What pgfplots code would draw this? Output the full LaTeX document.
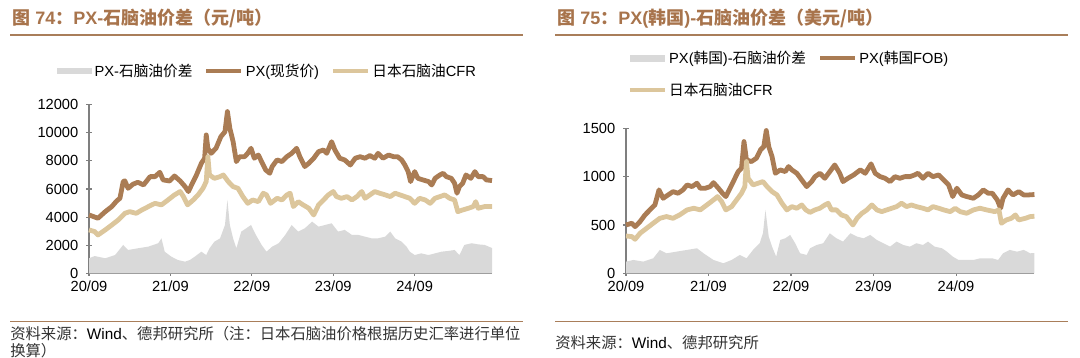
\documentclass[border=0pt]{standalone}
\usepackage{fontspec}
\setmainfont{Liberation Sans}
\newfontfamily\cjk{Noto Sans CJK SC}
\usepackage{pgfplots}
\pgfplotsset{compat=1.18}
\definecolor{pxbrown}{HTML}{AA7C54}
\definecolor{naptan}{HTML}{DCC69C}
\definecolor{spreadgray}{HTML}{D9D9D9}
\definecolor{titlebrown}{HTML}{A8744C}
\definecolor{rulebrown}{HTML}{A97E5A}
\definecolor{axisgray}{HTML}{7F7F7F}
\definecolor{srcgray}{HTML}{333333}
\newcommand\zh[1]{{\cjk #1}}

\pgfplotsset{
  myaxis/.style={
    scale only axis,
    axis x line=bottom, axis y line=left,
    axis line style={-, axisgray, line width=0.8pt},
    xmin=0, xmax=4.95, ymin=0,
    xtick={0,1,2,3,4}, xticklabels={20/09,21/09,22/09,23/09,24/09},
    tick style={axisgray, line width=0.8pt}, tick align=center, major tick length=4pt,
    scaled y ticks=false,
    /pgf/number format/assume math mode=true, /pgf/number format/1000 sep={},
    tick label style={font=\fontsize{11}{13}\selectfont, text=black},
    yticklabel style={xshift=-2.5pt},
    legend cell align=left,
    legend style={draw=none, fill=none, font=\fontsize{11}{13}\selectfont,
      /tikz/every even column/.append style={column sep=7pt}},
    clip=false,
  },
  grayleg/.style={legend image code/.code={\fill[spreadgray] (0pt,-2.6pt) rectangle (26pt,2.6pt);}},
  lineleg/.style={legend image code/.code={\draw[##1, line width=3pt] (0pt,0pt) -- (26pt,0pt);}},
}

\begin{document}
\begin{tikzpicture}
\useasboundingbox (0pt,0pt) rectangle (810pt,-267.75pt);
\begin{scope}[x=0.75pt,y=-0.75pt]
  % titles
  \node[anchor=west, inner sep=0pt, text=titlebrown, font=\fontsize{13.5}{15}\selectfont\bfseries] at (12,18.3)
    {\zh{图} 74\zh{：}PX-\zh{石脑油价差（元/吨）}};
  \node[anchor=west, inner sep=0pt, text=titlebrown, font=\fontsize{13.5}{15}\selectfont\bfseries] at (557,18.3)
    {\zh{图} 75\zh{：}PX(\zh{韩国})-\zh{石脑油价差（美元/吨）}};
  % rules
  \draw[rulebrown, line width=1.1pt] (10,35) -- (523,35);
  \draw[rulebrown, line width=1.1pt] (555,35) -- (1068,35);
  \draw[rulebrown, line width=1.1pt] (10,321.7) -- (523,321.7);
  \draw[rulebrown, line width=1.1pt] (555,321.7) -- (1068,321.7);
  % sources
  \node[anchor=west, inner sep=0pt, text=srcgray, font=\fontsize{11.5}{13}\selectfont] at (10,333.3)
    {\zh{资料来源：}\textcolor{black}{Wind}\zh{、德邦研究所（注：日本石脑油价格根据历史汇率进行单位}};
  \node[anchor=west, inner sep=0pt, text=srcgray, font=\fontsize{11.5}{13}\selectfont] at (10,350.7)
    {\zh{换算）}};
  \node[anchor=west, inner sep=0pt, text=srcgray, font=\fontsize{11.5}{13}\selectfont] at (555,342.7)
    {\zh{资料来源：}\textcolor{black}{Wind}\zh{、德邦研究所}};
\end{scope}

% ---------------- left axis ----------------
\begin{axis}[myaxis,
  at={(66.75pt,-204.98pt)}, anchor=south west,
  width=302.25pt, height=126.45pt,
  ymax=12000, ytick={0,2000,4000,6000,8000,10000,12000},
  legend columns=3,
  legend style={at={(0.444,1.20)}, anchor=center},
]
\addplot[fill=spreadgray, draw=none, grayleg] coordinates {
(0,1070) (0.07,1230) (0.20,1070) (0.32,1300) (0.42,2020) (0.48,1660) (0.60,1780) (0.73,1900)
(0.85,2140) (0.89,2490) (0.93,1540) (1.01,1190) (1.09,950) (1.18,830) (1.24,950) (1.30,1190)
(1.38,1540) (1.44,1300) (1.48,1780) (1.54,2250) (1.61,2490) (1.67,3440) (1.70,5220) (1.73,3440)
(1.77,2490) (1.81,1780) (1.87,2970) (1.93,3200) (1.99,3440) (2.05,2730) (2.12,2020) (2.18,1540)
(2.25,1900) (2.33,2140) (2.41,2730) (2.49,3440) (2.57,2970) (2.65,3200) (2.74,3680) (2.82,3320)
(2.90,3440) (2.98,3560) (3.06,2970) (3.14,3090) (3.23,2730) (3.31,2730) (3.39,2610) (3.47,2490)
(3.55,2490) (3.64,2610) (3.70,2970) (3.76,2490) (3.84,2250) (3.90,1900) (3.94,1540) (4.00,1300)
(4.08,1420) (4.17,1300) (4.25,1420) (4.33,1540) (4.41,1590) (4.49,1660) (4.55,1300) (4.61,2020)
(4.70,2140) (4.78,2060) (4.86,2020) (4.95,1800)
} \closedcycle;
\addlegendentry{PX-\zh{石脑油价差}}
\addplot[pxbrown, line width=3.6pt, lineleg, line join=round] coordinates {
(0,4150) (0.05,4050) (0.11,3920) (0.20,4390) (0.28,4750) (0.34,5150) (0.38,5340) (0.42,6530)
(0.44,6580) (0.48,6050) (0.54,6340) (0.60,6480) (0.67,6290) (0.75,6880) (0.81,6880) (0.87,7190)
(0.91,6650) (0.99,6570) (1.05,6930) (1.12,6570) (1.18,6170) (1.22,5820) (1.26,6290) (1.32,7000)
(1.38,7830) (1.42,8190) (1.44,9850) (1.46,8900) (1.50,8540) (1.56,8900) (1.62,9730) (1.67,10080)
(1.70,11510) (1.73,10320) (1.77,9370) (1.81,7950) (1.85,8300) (1.91,8300) (1.95,8540) (1.99,8900)
(2.03,8190) (2.08,8420) (2.12,7950) (2.17,7360) (2.22,7120) (2.25,7600) (2.31,8070) (2.37,7950)
(2.43,8300) (2.49,8540) (2.55,8900) (2.59,8300) (2.65,7600) (2.70,7830) (2.76,8190) (2.82,8660)
(2.88,8780) (2.92,8540) (2.98,9370) (3.02,8780) (3.08,8190) (3.14,8070) (3.21,7710) (3.27,8190)
(3.33,8300) (3.39,8190) (3.45,8380) (3.51,8190) (3.55,8540) (3.61,8190) (3.68,8420) (3.74,8300)
(3.79,8300) (3.84,8070) (3.88,7710) (3.92,7240) (3.95,6530) (4.00,7240) (4.04,6760) (4.10,6650)
(4.17,6530) (4.21,6290) (4.25,6760) (4.31,7000) (4.35,7120) (4.39,6880) (4.45,6760) (4.49,6410)
(4.52,5700) (4.55,6170) (4.59,6410) (4.63,7000) (4.69,6760) (4.74,7240) (4.78,6880) (4.84,6880)
(4.88,6650) (4.95,6600)
};
\addlegendentry{PX(\zh{现货价})}
\addplot[naptan, line width=3.6pt, lineleg, line join=round] coordinates {
(0,3090) (0.07,2970) (0.11,2730) (0.20,3090) (0.28,3440) (0.36,3800) (0.44,4270) (0.50,4390)
(0.58,4270) (0.65,4510) (0.73,4750) (0.81,4980) (0.89,4870) (0.97,5220) (1.05,5580) (1.12,5820)
(1.16,5460) (1.21,4870) (1.28,5220) (1.34,5580) (1.40,6050) (1.44,6530) (1.46,8300) (1.48,7000)
(1.54,6760) (1.61,6880) (1.65,7000) (1.71,6530) (1.77,6170) (1.83,6050) (1.89,5460) (1.95,4980)
(2.01,5220) (2.08,5100) (2.14,5700) (2.18,5580) (2.23,4980) (2.31,5340) (2.37,5220) (2.43,5580)
(2.47,5700) (2.51,4750) (2.57,5100) (2.63,4870) (2.70,4630) (2.76,4150) (2.82,4870) (2.88,5220)
(2.94,5580) (3.00,5820) (3.04,5460) (3.10,5340) (3.17,5460) (3.23,5220) (3.29,5460) (3.35,5820)
(3.39,5340) (3.45,5580) (3.51,5820) (3.57,5700) (3.64,5580) (3.70,5460) (3.76,5700) (3.82,5580)
(3.88,5460) (3.94,5340) (4.00,4980) (4.06,5340) (4.13,5220) (4.19,4980) (4.25,5340) (4.31,5460)
(4.37,5580) (4.43,5340) (4.49,5220) (4.53,4390) (4.59,4510) (4.66,4630) (4.72,4750) (4.75,5100)
(4.78,4630) (4.86,4750) (4.95,4750)
};
\addlegendentry{\zh{日本石脑油}CFR}
\end{axis}

% ---------------- right axis ----------------
\begin{axis}[myaxis,
  at={(469.5pt,-204.98pt)}, anchor=south west,
  width=306.3pt, height=108.75pt,
  ymax=1500, ytick={0,500,1000,1500},
  legend columns=2,
  legend style={at={(0.40,1.374)}, anchor=center, row sep=9pt},
]
\addplot[fill=spreadgray, draw=none, grayleg] coordinates {
(0,121) (0.09,138) (0.21,121) (0.33,155) (0.41,242) (0.49,207) (0.61,224) (0.74,242) (0.86,259)
(0.94,207) (1.06,138) (1.18,104) (1.28,138) (1.38,190) (1.46,155) (1.54,242) (1.62,311) (1.66,414)
(1.69,656) (1.73,380) (1.77,276) (1.82,173) (1.87,345) (1.93,362) (1.99,397) (2.05,311) (2.11,207)
(2.19,190) (2.23,259) (2.31,293) (2.39,311) (2.47,414) (2.55,362) (2.63,328) (2.72,414) (2.80,380)
(2.88,362) (2.96,397) (3.04,345) (3.12,311) (3.20,276) (3.28,328) (3.36,293) (3.44,276) (3.52,311)
(3.60,293) (3.66,328) (3.74,276) (3.83,259) (3.89,224) (3.96,173) (4.03,138) (4.13,138) (4.21,138)
(4.29,155) (4.37,155) (4.44,155) (4.51,138) (4.57,207) (4.65,242) (4.74,224) (4.82,242) (4.90,207)
(4.95,210)
} \closedcycle;
\addlegendentry{PX(\zh{韩国})-\zh{石脑油价差}}
\addplot[pxbrown, line width=3.6pt, lineleg, line join=round] coordinates {
(0,500) (0.07,518) (0.11,483) (0.17,535) (0.23,604) (0.29,656) (0.35,707) (0.40,863) (0.45,776)
(0.51,811) (0.57,845) (0.63,828) (0.69,863) (0.74,914) (0.80,897) (0.86,932) (0.90,880) (0.96,880)
(1.02,897) (1.06,938) (1.12,880) (1.17,828) (1.21,794) (1.26,880) (1.32,983) (1.36,1052) (1.40,1087)
(1.43,1363) (1.46,1173) (1.52,1156) (1.58,1190) (1.63,1277) (1.67,1311) (1.70,1477) (1.73,1311)
(1.77,1208) (1.81,1035) (1.87,1070) (1.93,1052) (1.97,1104) (2.01,1070) (2.07,1035) (2.13,966)
(2.19,897) (2.25,949) (2.29,1000) (2.35,1035) (2.41,983) (2.47,1052) (2.53,1121) (2.59,1035)
(2.63,949) (2.69,983) (2.76,1018) (2.84,1070) (2.90,1035) (2.97,1132) (3.02,1035) (3.08,1000)
(3.14,983) (3.20,949) (3.26,1000) (3.32,983) (3.38,1000) (3.44,1000) (3.50,1018) (3.54,1035)
(3.60,983) (3.66,1035) (3.72,1000) (3.79,1018) (3.85,966) (3.91,914) (3.96,794) (4.01,880)
(4.07,811) (4.13,794) (4.21,776) (4.27,811) (4.33,863) (4.39,828) (4.44,828) (4.50,759) (4.54,673)
(4.57,776) (4.63,863) (4.69,811) (4.76,845) (4.82,811) (4.88,811) (4.95,815)
};
\addlegendentry{PX(\zh{韩国}FOB)}
\addplot[naptan, line width=3.6pt, lineleg, line join=round] coordinates {
(0,386) (0.07,380) (0.11,352) (0.17,414) (0.25,466) (0.33,518) (0.41,569) (0.49,587) (0.57,569)
(0.65,604) (0.74,656) (0.82,673) (0.90,656) (0.98,707) (1.06,759) (1.11,794) (1.16,742) (1.21,656)
(1.28,690) (1.34,759) (1.40,828) (1.44,897) (1.46,1156) (1.48,983) (1.54,914) (1.60,932) (1.66,949)
(1.71,897) (1.77,845) (1.83,811) (1.89,725) (1.95,656) (2.01,690) (2.07,673) (2.13,707) (2.18,656)
(2.23,630) (2.29,656) (2.35,673) (2.41,707) (2.45,725) (2.49,656) (2.55,656) (2.61,604) (2.67,587)
(2.75,500) (2.80,569) (2.86,621) (2.92,656) (2.98,707) (3.04,656) (3.10,638) (3.16,656) (3.22,673)
(3.28,690) (3.34,725) (3.40,690) (3.46,707) (3.52,690) (3.60,673) (3.66,656) (3.72,690) (3.79,673)
(3.85,656) (3.93,638) (3.99,673) (4.05,638) (4.13,621) (4.21,656) (4.29,673) (4.37,656) (4.47,638)
(4.52,656) (4.55,518) (4.61,552) (4.67,569) (4.72,604) (4.76,552) (4.84,569) (4.90,587) (4.95,590)
};
\addlegendentry{\zh{日本石脑油}CFR}
\end{axis}
\end{tikzpicture}
\end{document}
